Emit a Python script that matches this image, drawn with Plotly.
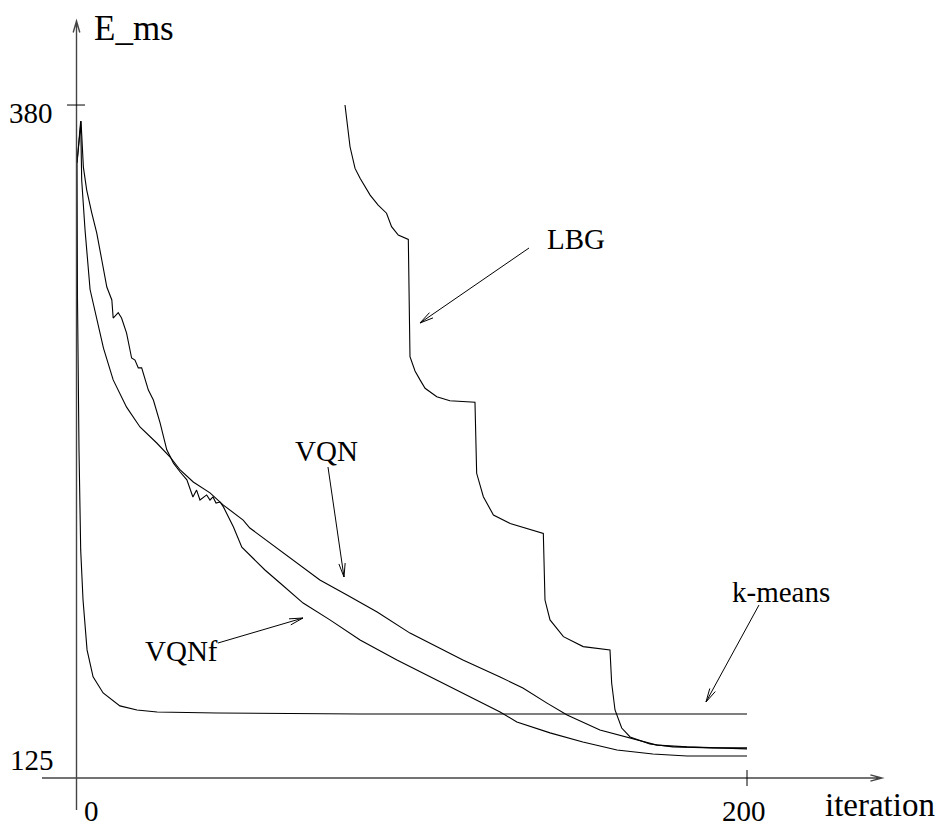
import math
import plotly.graph_objects as go

# ---------------- data ----------------
vqn_x = [0, 1.1, 1.4, 2.4, 3.9, 5.9, 7.9, 10.8, 14.8, 18.8, 23.8, 27.8, 30.8, 34.7,
         39.7, 43.7, 49.6, 51.6, 55.2, 59.7, 63.6, 72.5, 80.6, 89.6, 99.4, 115.2,
         126.3, 133.1, 140.3, 146.3, 156.1, 164.2, 173.1, 182.1, 189.9, 200]
vqn_y = [357.2, 373.7, 350.5, 330.9, 307.5, 296.0, 284.5, 272.0, 261.3, 253.5,
         247.2, 241.7, 236.6, 231.9, 227.6, 222.8, 216.9, 213.8, 210.3, 205.9,
         202.0, 193.4, 187.5, 180.8, 172.5, 161.9, 155.3, 150.9, 145.0, 140.3,
         134.4, 131.7, 128.5, 127.8, 127.4, 127.0]

vqnf_x = [0, 1.2, 1.9, 2.9, 4.4, 5.9, 7.4, 8.9, 10.4, 10.8, 12.3, 13.3, 14.8, 15.8,
          16.3, 17.3, 18.3, 19.3, 19.8, 21.3, 22.8, 24.8, 26.8, 28.8, 30.8, 32.8,
          34.6, 35.7, 36.7, 38.7, 39.7, 40.6, 41.5, 42.7, 43.7, 46.7, 49.2, 51.6,
          56.1, 60.6, 67.5, 75.5, 84.5, 95.5, 105.4, 115.8, 126.3, 131.3, 141.2,
          151.0, 161.2, 171.9, 182.1, 200]
vqnf_y = [357.2, 373.7, 355.6, 346.6, 337.6, 329.7, 319.1, 308.5, 303.4, 296.3,
          298.4, 296.3, 290.4, 283.7, 280.6, 279.8, 276.7, 276.7, 274.7, 268.0,
          264.1, 255.1, 244.5, 239.3, 235.8, 232.7, 226.0, 228.7, 224.8, 226.8,
          224.8, 226.0, 223.6, 224.0, 222.1, 214.2, 206.3, 203.2, 197.3, 192.2,
          184.3, 177.7, 169.8, 161.9, 155.3, 148.2, 141.5, 137.6, 133.3, 129.7,
          126.6, 125.0, 124.2, 124.2]

lbg_x = [80.0, 81.5, 83.0, 84.5, 87.5, 89.9, 92.4, 93.9, 95.9, 98.9, 99.4, 100.9,
         102.4, 103.9, 107.4, 111.3, 118.8, 119.3, 121.3, 124.3, 129.3, 134.2,
         139.2, 139.7, 141.2, 145.2, 151.1, 159.1, 159.6, 160.6, 162.6, 165.1,
         171.0, 177.9, 189.9, 200]
lbg_y = [380.0, 363.6, 355.1, 351.2, 344.6, 340.7, 337.5, 332.2, 328.9, 327.2,
         281.1, 275.5, 272.0, 268.7, 265.4, 263.8, 263.2, 235.3, 226.1, 218.9,
         215.6, 213.7, 211.7, 185.5, 177.7, 171.1, 167.2, 165.9, 152.9, 142.3,
         135.2, 131.7, 128.9, 127.8, 127.4, 127.4]

kmeans_x = [0, 0.15, 0.6, 1.1, 1.8, 3.0, 4.8, 7.8, 12.8, 17.9, 23.9, 41.8, 84.5, 200]
kmeans_y = [357.2, 303.4, 244.4, 205.2, 185.5, 165.9, 155.3, 149.0, 143.9, 142.3,
            141.5, 141.1, 140.7, 140.7]

y_ticks = [380, 125]
x_ticks = [0, 200]
x_title = "iteration"
y_title = "E_ms"
labels = ["LBG", "VQN", "VQNf", "k-means"]

# ---------------- layout geometry ----------------
W, H = 935, 828
PX_X0, PX_PER_X = 77.0, 3.35      # pixel of x=0, pixels per iteration
PX_Y125, PX_PER_Y = 754.0, 2.545  # pixel of y=125, pixels per unit

x_range = [(0 - PX_X0) / PX_PER_X, (W - PX_X0) / PX_PER_X]
y_range = [125 - (H - PX_Y125) / PX_PER_Y, 125 + PX_Y125 / PX_PER_Y]

FONT = "Liberation Serif, Times New Roman, Times, serif"


def P(px, py):
    return px / W, 1 - py / H


def arrow_path(tail, head, length=13.0, half_deg=14.0):
    tx, ty = tail
    hx, hy = head
    ang = math.atan2(ty - hy, tx - hx)
    pts = []
    for s in (-1, 1):
        a = ang + s * math.radians(half_deg)
        pts.append((hx + length * math.cos(a), hy + length * math.sin(a)))

    def f(p):
        x, y = P(*p)
        return f"{x:.5f},{y:.5f}"
    return f"M{f(tail)} L{f(head)} M{f(pts[0])} L{f(head)} L{f(pts[1])}"


fig = go.Figure()
for xs, ys in [(kmeans_x, kmeans_y), (vqn_x, vqn_y), (vqnf_x, vqnf_y), (lbg_x, lbg_y)]:
    fig.add_trace(go.Scatter(x=xs, y=ys, mode="lines",
                             line=dict(color="black", width=1.1),
                             hoverinfo="skip"))

shapes = []
# axes
shapes.append(dict(type="path", xref="paper", yref="paper",
                   path=arrow_path((76.5, 810), (76.5, 21), 12, 16),
                   line=dict(color="#444", width=1.4)))
shapes.append(dict(type="path", xref="paper", yref="paper",
                   path=arrow_path((42, 778), (882, 778), 12, 15),
                   line=dict(color="#444", width=1.4)))
# tick marks
shapes.append(dict(type="line", xref="paper", yref="y",
                   x0=67 / W, x1=85 / W, y0=y_ticks[0], y1=y_ticks[0],
                   line=dict(color="black", width=1)))
shapes.append(dict(type="line", xref="x", yref="paper",
                   x0=x_ticks[1], x1=x_ticks[1], y0=1 - 770 / H, y1=1 - 786 / H,
                   line=dict(color="black", width=1)))
# label arrows
for tail, head in [((529, 248), (420, 323)), ((328, 467), (344, 577)),
                   ((218, 643), (303, 618)), ((759, 605), (706, 702))]:
    shapes.append(dict(type="path", xref="paper", yref="paper",
                       path=arrow_path(tail, head, 14, 13),
                       line=dict(color="black", width=1)))

annotations = []


def txt(text, px, py, size):
    x, y = P(px, py)
    annotations.append(dict(text=text, x=x, y=y, xref="paper", yref="paper",
                            showarrow=False, xanchor="center", yanchor="middle",
                            font=dict(family=FONT, size=size, color="black")))


txt(y_title, 133.5, 28, 35)
txt(str(y_ticks[0]), 31, 113.4, 29)
txt(str(y_ticks[1]), 32, 759.7, 29)
txt(str(x_ticks[0]), 91, 811, 29)
txt(str(x_ticks[1]), 744, 811, 29)
txt(x_title, 880, 805, 33)
txt(labels[0], 576, 238.7, 29)
txt(labels[1], 326, 450.7, 29)
txt(labels[2], 181, 650.7, 29)
txt(labels[3], 781, 591.7, 29)

fig.update_layout(
    width=W, height=H,
    margin=dict(l=0, r=0, t=0, b=0),
    paper_bgcolor="white", plot_bgcolor="white",
    showlegend=False,
    font=dict(family=FONT),
    xaxis=dict(visible=False, range=x_range, fixedrange=True),
    yaxis=dict(visible=False, range=y_range, fixedrange=True),
    shapes=shapes,
    annotations=annotations,
)

fig.write_html("out.html",
               config={"displayModeBar": False, "staticPlot": True},
               post_script="document.body.style.margin='0px';"
                           "document.body.style.padding='0px';"
                           "document.body.style.overflow='hidden';")
